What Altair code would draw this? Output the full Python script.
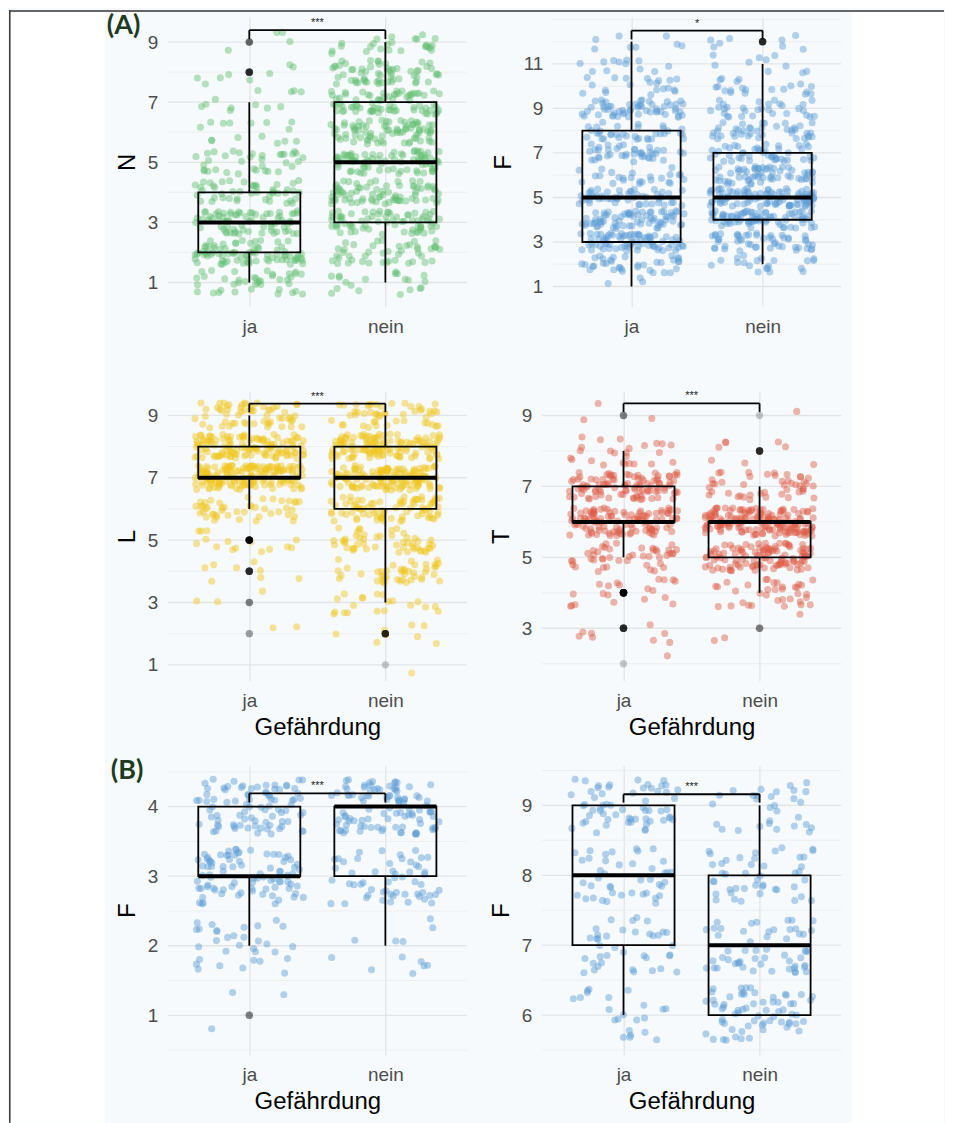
import altair as alt
import pandas as pd

# ---------------- data ----------------
GROUP_LABELS = ["ja", "nein"]

# (A) N
N_values = [1, 2, 3, 4, 5, 6, 7, 8, 9]
N_ja = [40, 80, 70, 45, 35, 15, 12, 8, 4]
N_nein = [20, 45, 70, 75, 80, 80, 75, 60, 25]
N_box_ja = [1, 2, 3, 4, 7]      # lower whisker, q1, median, q3, upper whisker
N_box_nein = [1, 3, 5, 7, 9]
N_bracket = [9.4, 9.1]
N_sig = "***"

# (A) F
F_values = [1, 2, 3, 4, 5, 6, 7, 8, 9, 10, 11, 12]
F_ja = [3, 35, 75, 70, 50, 25, 40, 35, 55, 20, 12, 8]
F_nein = [0, 20, 50, 80, 95, 60, 45, 40, 30, 20, 10, 8]
F_box_ja = [1, 3, 5, 8, 12]
F_box_nein = [2, 4, 5, 7, 11]
F_bracket = [12.5, 12.1]
F_sig = "*"

# (A) L
L_values = [1, 2, 3, 4, 5, 6, 7, 8, 9]
L_ja = [0, 2, 3, 8, 15, 45, 150, 120, 60]
L_nein = [1, 8, 20, 45, 50, 80, 130, 120, 50]
L_box_ja = [6, 7, 7, 8, 9]
L_box_nein = [3, 6, 7, 8, 9]
L_bracket = [9.38, 9.1]
L_sig = "***"

# (A) T
T_values = [2, 3, 4, 5, 6, 7, 8, 9]
T_ja = [1, 8, 20, 45, 110, 100, 25, 3]
T_nein = [0, 3, 35, 110, 160, 45, 8, 1]
T_box_ja = [5, 6, 6, 7, 8]
T_box_nein = [4, 5, 6, 6, 7]
T_bracket = [9.34, 9.1]
T_sig = "***"

# (B) F, left
B1_values = [1, 2, 3, 4]
B1_ja = [3, 32, 85, 85]
B1_nein = [0, 12, 55, 100]
B1_box_ja = [2, 3, 3, 4, 4]
B1_box_nein = [2, 3, 4, 4, 4]
B1_bracket = [4.19, 4.06]
B1_sig = "***"

# (B) F, right
B2_values = [6, 7, 8, 9]
B2_ja = [22, 38, 42, 60]
B2_nein = [65, 55, 45, 30]
B2_box_ja = [6, 7, 8, 9, 9]
B2_box_nein = [6, 6, 7, 8, 9]
B2_bracket = [9.16, 9.04]
B2_sig = "***"

# axis domains, labelled ticks and grid lines
N_domain, N_ticks, N_grid = [0.2, 9.83], [1, 3, 5, 7, 9], [1, 2, 3, 4, 5, 6, 7, 8, 9]
F_domain, F_ticks, F_grid = [0.1, 13.1], [1, 3, 5, 7, 9, 11], [1, 2, 3, 4, 5, 6, 7, 8, 9, 10, 11, 12, 13]
L_domain, L_ticks, L_grid = [0.49, 9.77], [1, 3, 5, 7, 9], [1, 2, 3, 4, 5, 6, 7, 8, 9]
T_domain, T_ticks, T_grid = [1.52, 9.68], [3, 5, 7, 9], [2, 3, 4, 5, 6, 7, 8, 9]
B1_domain, B1_ticks, B1_grid = [0.43, 4.59], [1, 2, 3, 4], [0.5, 1, 1.5, 2, 2.5, 3, 3.5, 4, 4.5]
B2_domain, B2_ticks, B2_grid = [5.43, 9.57], [6, 7, 8, 9], [5.5, 6, 6.5, 7, 7.5, 8, 8.5, 9, 9.5]

GREEN = "#62bf72"
BLUE = "#5b9bd5"
YELLOW = "#efc61a"
RED = "#de5a45"
PANEL_BG = "#f6fafc"

W, H = 300, 290
FONT = "Liberation Sans"
_k = [0]


def panel(values, ja, nein, box_ja, box_nein, bracket, sig, domain, ticks, grid,
          color, ytitle, xtitle, x0=0, yoffset=0, pre=None, post=None):
    rows, outl = [], []
    boxes = []
    for g, counts, box in ((1, ja, box_ja), (2, nein, box_nein)):
        lo, q1, med, q3, hi = box
        boxes.append({"g": g, "left": g - 0.375, "right": g + 0.375,
                      "lo": lo, "q1": q1, "med": med, "q3": q3, "hi": hi})
        for v, c in zip(values, counts):
            for _ in range(c):
                rows.append({"g": g, "v": v, "k": _k[0]})
                _k[0] += 1
                if v < lo or v > hi:
                    outl.append({"g": g, "v": v})
    pts = pd.DataFrame(rows)
    bx = pd.DataFrame(boxes)
    bar, tip = bracket
    br = pd.DataFrame([
        {"x": 1, "x2": 2, "y": bar, "y2": bar},
        {"x": 1, "x2": 1, "y": tip, "y2": bar},
        {"x": 2, "x2": 2, "y": tip, "y2": bar},
    ])

    xs = alt.Scale(domain=[0.4, 2.6], range=[x0, W], nice=False, zero=False)
    ys = alt.Scale(domain=domain, nice=False, zero=False)

    xaxis = alt.Axis(values=[1, 2], labelExpr="datum.value == 1 ? 'ja' : 'nein'",
                     grid=True, gridColor="#e4e4e4", gridWidth=1.3, ticks=False,
                     domain=False, labelPadding=11, labelFontSize=19,
                     labelColor="#4d4d4d", labelFont=FONT,
                     title=xtitle if xtitle else "",
                     titleFontSize=24, titlePadding=5, titleFontWeight="normal",
                     titleColor="black", titleFont=FONT)
    yargs = dict(values=ticks, format="d", grid=False, ticks=False, domain=False,
                 labelPadding=10, labelFontSize=19, labelColor="#4d4d4d",
                 labelFont=FONT, title=ytitle, titleFontSize=24, titlePadding=8,
                 titleFontWeight="normal", titleColor="black", titleFont=FONT)
    if yoffset:
        yargs["offset"] = yoffset
    yaxis = alt.Axis(**yargs)

    def X(f):
        return alt.X(f, scale=xs, axis=xaxis)

    def Y(f):
        return alt.Y(f, scale=ys, axis=yaxis)

    major = [v for v in grid if v in ticks]
    minor = [v for v in grid if v not in ticks]

    layers = []
    if pre:
        layers += pre
    layers.append(alt.Chart(pd.DataFrame({"y": minor})).mark_rule(color="#ececec", strokeWidth=0.9)
                  .encode(y=Y("y:Q"), x=alt.value(x0), x2=alt.value(W)))
    layers.append(alt.Chart(pd.DataFrame({"y": major})).mark_rule(color="#e4e4e4", strokeWidth=1.3)
                  .encode(y=Y("y:Q"), x=alt.value(x0), x2=alt.value(W)))
    layers.append(
        alt.Chart(pts).transform_calculate(
            h1="sin(datum.k * 12.9898 + 0.31) * 43758.5453",
            h2="sin(datum.k * 78.233 + 1.13) * 24634.6345",
        ).transform_calculate(
            xj="datum.g + (datum.h1 - floor(datum.h1) - 0.5) * 0.8",
            yj="datum.v + (datum.h2 - floor(datum.h2) - 0.5) * 0.8",
        ).mark_circle(size=50, opacity=0.45, color=color)
        .encode(x=X("xj:Q"), y=Y("yj:Q"))
    )
    if outl:
        layers.append(alt.Chart(pd.DataFrame(outl)).mark_circle(size=55, opacity=0.2, color="black")
                      .encode(x=X("g:Q"), y=Y("v:Q")))
    layers.append(alt.Chart(bx).mark_rule(color="black", strokeWidth=1.8)
                  .encode(x=X("g:Q"), y=Y("q3:Q"), y2="hi:Q"))
    layers.append(alt.Chart(bx).mark_rule(color="black", strokeWidth=1.8)
                  .encode(x=X("g:Q"), y=Y("lo:Q"), y2="q1:Q"))
    layers.append(alt.Chart(bx).mark_rect(fillOpacity=0, stroke="black", strokeWidth=1.8)
                  .encode(x=X("left:Q"), x2="right:Q", y=Y("q1:Q"), y2="q3:Q"))
    layers.append(alt.Chart(bx).mark_rule(color="black", strokeWidth=4)
                  .encode(x=X("left:Q"), x2="right:Q", y=Y("med:Q")))
    layers.append(alt.Chart(br).mark_rule(color="black", strokeWidth=1.8)
                  .encode(x=X("x:Q"), x2="x2:Q", y=Y("y:Q"), y2="y2:Q"))
    layers.append(alt.Chart(pd.DataFrame({"x": [1.5], "y": [bar], "t": [sig]}))
                  .mark_text(fontSize=11, color="#222222", baseline="alphabetic", dy=-4, font=FONT)
                  .encode(x=X("x:Q"), y=Y("y:Q"), text="t:N"))
    if post:
        layers += post
    return alt.layer(*layers).properties(width=W, height=H)


BOTTOM = 1108
one = alt.Data(values=[{"a": 1}])
# white margins left/right of the tinted figure area, plus the frame lines
frame = [
    alt.Chart(one).mark_rect(color="white").encode(
        x=alt.value(-159), x2=alt.value(-63), y=alt.value(-7), y2=alt.value(BOTTOM)),
    alt.Chart(one).mark_rect(color="white").encode(
        x=alt.value(686), x2=alt.value(778), y=alt.value(-7), y2=alt.value(BOTTOM)),
    alt.Chart(one).mark_rule(color="#333333", strokeWidth=1.5).encode(
        x=alt.value(-159), x2=alt.value(778), y=alt.value(-6.2)),
    alt.Chart(one).mark_rule(color="#333333", strokeWidth=1.5).encode(
        x=alt.value(-158.2), y=alt.value(-7), y2=alt.value(BOTTOM)),
]


def tag(label, x, y):
    return alt.Chart(alt.Data(values=[{"t": label}])).mark_text(
        font="Lato", fontSize=27, fontWeight="bold", color="#1f3b1f",
        align="left", baseline="alphabetic").encode(
        x=alt.value(x), y=alt.value(y), text="t:N")


p1 = panel(N_values, N_ja, N_nein, N_box_ja, N_box_nein, N_bracket, N_sig,
           N_domain, N_ticks, N_grid, GREEN, "N", None,
           pre=frame, post=[tag("(A)", -61, 17)])
p2 = panel(F_values, F_ja, F_nein, F_box_ja, F_box_nein, F_bracket, F_sig,
           F_domain, F_ticks, F_grid, BLUE, "F", None, x0=11, yoffset=-11)
p3 = panel(L_values, L_ja, L_nein, L_box_ja, L_box_nein, L_bracket, L_sig,
           L_domain, L_ticks, L_grid, YELLOW, "L", "Gefährdung")
p4 = panel(T_values, T_ja, T_nein, T_box_ja, T_box_nein, T_bracket, T_sig,
           T_domain, T_ticks, T_grid, RED, "T", "Gefährdung")
p5 = panel(B1_values, B1_ja, B1_nein, B1_box_ja, B1_box_nein, B1_bracket, B1_sig,
           B1_domain, B1_ticks, B1_grid, BLUE, "F", "Gefährdung",
           post=[tag("(B)", -57, 13)])
p6 = panel(B2_values, B2_ja, B2_nein, B2_box_ja, B2_box_nein, B2_bracket, B2_sig,
           B2_domain, B2_ticks, B2_grid, BLUE, "F", "Gefährdung")

chart = alt.ConcatChart(
    concat=[p1, p2, p3, p4, p5, p6],
    columns=2,
    spacing={"row": 85, "column": 75},
    bounds="flush",
).properties(padding=0).configure(font=FONT, background=PANEL_BG).configure_view(stroke=None)

chart.save("out.html", embed_options={"renderer": "svg", "actions": False})
